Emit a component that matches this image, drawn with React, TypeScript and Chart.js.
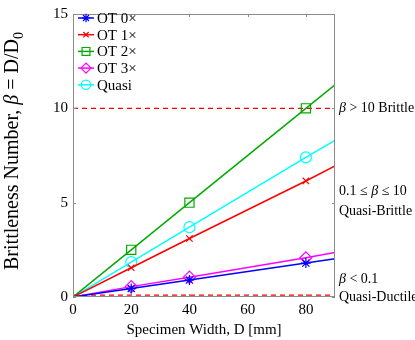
import React, { useEffect, useRef } from "react";
import { Chart, registerables } from "chart.js";
import { drawPoint } from "chart.js/helpers";
Chart.register(...registerables);

const widths = [0, 20, 40, 80, 90];
const seriesNames = ["OT 0×", "OT 1×", "OT 2×", "OT 3×", "Quasi"];
const ot0 = [0, 0.45, 0.9, 1.8, 2.03];
const ot1 = [0, 1.55, 3.1, 6.15, 6.95];
const ot2 = [0, 2.5, 5.0, 10.0, 11.25];
const ot3 = [0, 0.55, 1.05, 2.08, 2.36];
const quasi = [0, 1.85, 3.7, 7.4, 8.3];
const seriesValues = [ot0, ot1, ot2, ot3, quasi];
const seriesColors = ["#0000ff", "#ff0000", "#00aa00", "#ff00ff", "#00ffff"];
const seriesMarkers = ["star", "crossRot", "rect", "rectRot", "circle"];
const markerRadius = [5, 4.5, 6.5, 6, 5.5];
const markerShown = [false, true, true, true, false];
const thresholds = [10, 0.1];
const xTicks = [0, 20, 40, 60, 80];
const yTicks = [0, 5, 10, 15];

const FONT = "'Liberation Serif', 'Times New Roman', serif";

export default function App() {
  const ref = useRef<HTMLCanvasElement | null>(null);
  useEffect(() => {
    document.body.style.margin = "0";
    const canvas = ref.current!;
    const datasets: any[] = seriesNames.map((name, i) => ({
      label: name,
      data: widths.map((w, j) => ({ x: w, y: seriesValues[i][j] })),
      borderColor: seriesColors[i],
      backgroundColor: "rgba(0,0,0,0)",
      borderWidth: 1.5,
      pointStyle: seriesMarkers[i],
      pointRadius: markerShown.map((s) => (s ? markerRadius[i] : 0)),
      pointBorderWidth: 1.2,
      pointBorderColor: seriesColors[i],
      pointBackgroundColor: "rgba(0,0,0,0)",
      showLine: true,
      tension: 0,
    }));
    thresholds.forEach((t) => {
      datasets.push({
        label: "thr" + t,
        data: [
          { x: 0, y: t },
          { x: 90, y: t },
        ],
        borderColor: "#ff0000",
        borderWidth: 1.2,
        borderDash: [5, 4],
        pointRadius: 0,
        showLine: true,
      });
    });

    const plugin = {
      id: "decor",
      afterDraw(chart: any) {
        const ctx = chart.ctx as CanvasRenderingContext2D;
        const a = chart.chartArea;
        const xs = chart.scales.x;
        const ys = chart.scales.y;
        ctx.save();
        ctx.setLineDash([]);
        // box
        ctx.strokeStyle = "#8c8c8c";
        ctx.lineWidth = 1;
        ctx.strokeRect(a.left + 0.5, a.top + 0.5, a.right - a.left - 1, a.bottom - a.top - 1);
        // inward ticks
        ctx.beginPath();
        xTicks.forEach((v) => {
          const px = Math.round(xs.getPixelForValue(v)) + 0.5;
          ctx.moveTo(px, a.bottom);
          ctx.lineTo(px, a.bottom - 3);
          ctx.moveTo(px, a.top);
          ctx.lineTo(px, a.top + 3);
        });
        yTicks.forEach((v) => {
          const py = Math.round(ys.getPixelForValue(v)) + 0.5;
          ctx.moveTo(a.left, py);
          ctx.lineTo(a.left + 3, py);
          ctx.moveTo(a.right, py);
          ctx.lineTo(a.right - 3, py);
        });
        ctx.stroke();

        // legend
        ctx.textBaseline = "middle";
        ctx.textAlign = "left";
        seriesNames.forEach((name, i) => {
          const y = 18 + i * 16.7;
          ctx.strokeStyle = seriesColors[i];
          ctx.lineWidth = 1.5;
          ctx.beginPath();
          ctx.moveTo(78, y);
          ctx.lineTo(94, y);
          ctx.stroke();
          ctx.lineWidth = 1.2;
          ctx.fillStyle = "rgba(0,0,0,0)";
          drawPoint(ctx, {
            pointStyle: seriesMarkers[i],
            radius: markerRadius[i] * 0.85,
            rotation: 0,
            borderWidth: 1.2,
          } as any, 86, y);
          ctx.fillStyle = "#000";
          ctx.font = `15px ${FONT}`;
          ctx.fillText(name, 97, y + 1);
        });

        // right annotations
        const drawParts = (parts: [string, boolean][], x: number, y: number) => {
          let cx = x;
          parts.forEach(([t, it]) => {
            ctx.font = `${it ? "italic " : ""}14px ${FONT}`;
            ctx.fillText(t, cx, y);
            cx += ctx.measureText(t).width;
          });
        };
        ctx.fillStyle = "#000";
        drawParts([["β", true], [" > 10 Brittle", false]], 339, ys.getPixelForValue(10));
        drawParts([["0.1 ≤ ", false], ["β", true], [" ≤ 10", false]], 339, 191);
        drawParts([["Quasi-Brittle", false]], 339, 211);
        drawParts([["β", true], [" < 0.1", false]], 339, 279);
        drawParts([["Quasi-Ductile", false]], 339, 297);

        // x title
        ctx.textAlign = "center";
        ctx.font = `15px ${FONT}`;
        ctx.fillText("Specimen Width, D [mm]", (a.left + a.right) / 2, 330);

        // y title rotated
        ctx.translate(13, 151);
        ctx.rotate(-Math.PI / 2);
        ctx.textAlign = "left";
        const parts: [string, string][] = [
          ["Brittleness Number, ", ""],
          ["β", "italic "],
          [" = D/D", ""],
        ];
        const fs = 20;
        let total = 0;
        parts.forEach(([t, st]) => {
          ctx.font = `${st}${fs}px ${FONT}`;
          total += ctx.measureText(t).width;
        });
        ctx.font = `${Math.round(fs * 0.7)}px ${FONT}`;
        total += ctx.measureText("0").width;
        let cx = -total / 2;
        parts.forEach(([t, st]) => {
          ctx.font = `${st}${fs}px ${FONT}`;
          ctx.fillText(t, cx, 0);
          cx += ctx.measureText(t).width;
        });
        ctx.font = `${Math.round(fs * 0.7)}px ${FONT}`;
        ctx.fillText("0", cx, 6);
        ctx.restore();
      },
    };

    const chart = new Chart(canvas, {
      type: "scatter",
      data: { datasets },
      plugins: [plugin],
      options: {
        animation: false,
        responsive: false,
        maintainAspectRatio: false,
        layout: { padding: { left: 0, right: 80, top: 6, bottom: 0 } },
        plugins: { legend: { display: false }, tooltip: { enabled: false } },
        scales: {
          x: {
            type: "linear",
            min: 0,
            max: 90,
            afterBuildTicks: (s: any) => {
              s.ticks = xTicks.map((v) => ({ value: v }));
            },
            afterFit: (s: any) => {
              s.height = 43;
            },
            grid: { display: false, drawTicks: false },
            border: { display: false },
            ticks: { color: "#000", font: { family: FONT, size: 15 }, padding: 4, maxRotation: 0 },
          },
          y: {
            type: "linear",
            min: 0,
            max: 15,
            afterBuildTicks: (s: any) => {
              s.ticks = yTicks.map((v) => ({ value: v }));
            },
            afterFit: (s: any) => {
              s.width = 73;
            },
            grid: { display: false, drawTicks: false },
            border: { display: false },
            ticks: { color: "#000", font: { family: FONT, size: 15 }, padding: 5 },
          },
        },
      } as any,
    });
    return () => chart.destroy();
  }, []);
  return (
    <div style={{ position: "absolute", left: 0, top: 0, width: 415, height: 340, background: "#fff" }}>
      <canvas ref={ref} width={415} height={340} style={{ width: 415, height: 340 }} />
    </div>
  );
}
